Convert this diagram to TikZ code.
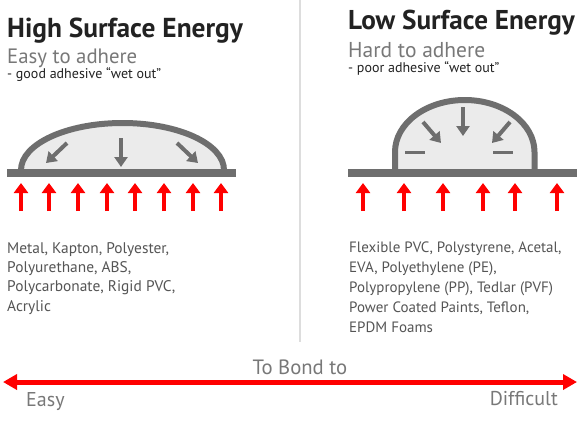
\documentclass[tikz,border=0pt]{standalone}
\usepackage{fontspec}
\setmainfont{PT Sans}
\usepackage{tikz}
\usetikzlibrary{arrows.meta,positioning}
\definecolor{dome}{RGB}{110,110,110}
\definecolor{domefill}{RGB}{235,235,235}
\definecolor{titlegray}{RGB}{34,34,34}
\definecolor{subgray}{RGB}{120,120,120}
\definecolor{listgray}{RGB}{85,85,85}
\definecolor{rule}{RGB}{221,221,221}

\tikzset{
  txt/.style={inner sep=0pt,anchor=base west},
  force/.style={red,line width=4pt,-{Triangle[width=14pt,length=10pt]}},
  pull/.style={dome,line width=4pt,-{Triangle[width=13pt,length=10pt]}},
  drop/.style={draw=dome,fill=domefill,line width=6pt},
}
\newcommand{\fs}[2]{\fontsize{#1}{#2}\selectfont}

\begin{document}
\begin{tikzpicture}[x=1pt,y=-1pt]
  \useasboundingbox (0,0) rectangle (586,424);
  \fill[white] (0,0) rectangle (586,424);
  % divider
  \draw[rule,line width=1.2pt] (300,0) -- (300,342);
  % headings
  \node[txt,text=titlegray,font=\fs{27.4}{32}\bfseries] (hse) at (7,37) {High Surface Energy};
  \node[txt,text=subgray,font=\fs{20.8}{24}] (easyad) at (7,63) {Easy to adhere};
  \node[txt,text=titlegray,font=\fs{14}{16}] (good) at (7,78) {- good adhesive “wet out”};
  \node[txt,text=titlegray,font=\fs{27.2}{32}\bfseries] (lse) at (348,29) {Low Surface Energy};
  \node[txt,text=subgray,font=\fs{21.5}{24}] (hardad) at (348,57) {Hard to adhere};
  \node[txt,text=titlegray,font=\fs{14}{16}] (poor) at (348,72) {- poor adhesive “wet out”};
  % high energy: flat drop
  \filldraw[drop] (21,170) arc[start angle=180,end angle=0,x radius=101.5pt,y radius=47pt];
  \fill[dome] (7,169) rectangle (236,177);
  \draw[pull] (67,143) -- (46,163);
  \draw[pull] (121,138) -- (121,167);
  \draw[pull] (177,143) -- (198,163);
  \foreach \x in {21,49,78,107,135,164,193,221} { \draw[force] (\x,211) -- (\x,183); }
  % low energy: beaded drop
  \filldraw[drop] (395,170) -- (395,152) arc[start angle=180,end angle=0,x radius=69.75pt,y radius=52pt] -- (534.5,170);
  \fill[dome] (348,169) rectangle (577,177);
  \draw[pull] (423,122) -- (441,143);
  \draw[pull] (463,107) -- (463,136);
  \draw[pull] (510,122) -- (492,143);
  \draw[dome,line width=3pt] (405,152) -- (425,152);
  \draw[dome,line width=3pt] (493,152) -- (513,152);
  \foreach \x in {363,404,443,483,515,557} { \draw[force] (\x,211) -- (\x,183); }
  % materials
  \node[txt,text=listgray,font=\fs{15.4}{19.3},align=left,anchor=north west] (hlist) at (7,242)
    {Metal, Kapton, Polyester,\\Polyurethane, ABS,\\Polycarbonate, Rigid PVC,\\Acrylic};
  \node[txt,text=listgray,font=\fs{15}{20},align=left,anchor=north west] (llist) at (349,242)
    {Flexible PVC, Polystyrene, Acetal,\\EVA, Polyethylene (PE),\\Polypropylene (PP), Tedlar (PVF)\\Power Coated Paints, Teflon,\\EPDM Foams};
  % scale
  \coordinate (lo) at (3,382);
  \coordinate (hi) at (577,382);
  \draw[red,line width=5pt,{Triangle[width=15pt,length=14pt]}-{Triangle[width=15pt,length=14pt]}] (lo) -- (hi);
  \node[txt,anchor=base,text=subgray,font=\fs{20.7}{24}] (bond) at (300,374) {To Bond to};
  \node[txt,text=subgray,font=\fs{20}{24}] (easy) at (26,406) {Easy};
  \node[txt,anchor=base east,text=subgray,font=\fs{20}{24}] (diff) at (558,405) {Difficult};
\end{tikzpicture}
\end{document}
